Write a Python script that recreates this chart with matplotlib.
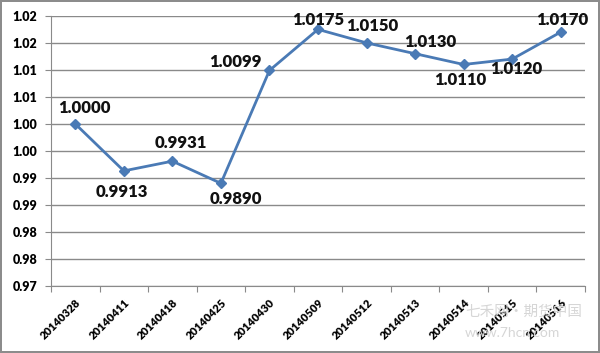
import matplotlib.pyplot as plt
from matplotlib.ticker import FixedLocator, NullFormatter

dates = ["20140328", "20140411", "20140418", "20140425", "20140430", "20140509",
         "20140512", "20140513", "20140514", "20140515", "20140516"]
values = [1.0000, 0.9913, 0.9931, 0.9890, 1.0099, 1.0175,
          1.0150, 1.0130, 1.0110, 1.0120, 1.0170]
labels = ["1.0000", "0.9913", "0.9931", "0.9890", "1.0099", "1.0175",
          "1.0150", "1.0130", "1.0110", "1.0120", "1.0170"]
y_ticks = [0.970, 0.975, 0.980, 0.985, 0.990, 0.995, 1.000, 1.005, 1.010, 1.015, 1.020]
y_ticklabels = ["0.97", "0.98", "0.98", "0.99", "0.99", "1.00", "1.00", "1.01", "1.01", "1.02", "1.02"]

# label offsets in pixels (dx, dy)
offsets = [(9, 16), (-2, -21), (8, 18), (15, -16), (-34, 8), (0, 9),
           (6, 17), (15, 12), (-3, -16), (4, -10), (2, 12)]

plt.rcParams['font.family'] = ['Lato', 'DejaVu Sans']

fig = plt.figure(figsize=(6, 3.53), dpi=100, edgecolor='#8c8c8c', linewidth=1.5)
ax = fig.add_axes([0.085, 0.19, 0.89, 0.765])

x = list(range(len(values)))
ax.plot(x, values, color='#4a7ab5', linewidth=2, marker='D', markersize=5, zorder=3)

for i, (v, lab) in enumerate(zip(values, labels)):
    ax.annotate(lab, (i, v), xytext=offsets[i], textcoords='offset pixels',
                ha='center', va='center', fontsize=12, fontweight='heavy', color='#111111')

ax.set_xlim(-0.5, len(values) - 0.5)
ax.set_ylim(0.97, 1.02)
ax.set_yticks(y_ticks)
ax.set_yticklabels(y_ticklabels, fontsize=9, fontweight='heavy')
ax.yaxis.grid(True, color='#8a8a8a', linewidth=1)
ax.set_axisbelow(True)

ax.xaxis.set_major_locator(FixedLocator([i - 0.5 for i in range(len(values) + 1)]))
ax.xaxis.set_major_formatter(NullFormatter())
ax.xaxis.set_minor_locator(FixedLocator(x))
ax.set_xticklabels(dates, minor=True, rotation=45, ha='right', rotation_mode='anchor',
                   fontsize=8, fontweight='heavy')
ax.tick_params(axis='x', which='minor', length=0, pad=8)
ax.tick_params(axis='x', which='major', length=4, color='#8a8a8a')
ax.tick_params(axis='y', length=4, color='#8a8a8a', pad=6)

for s in ['top', 'right']:
    ax.spines[s].set_visible(False)
for s in ['left', 'bottom']:
    ax.spines[s].set_color('#8a8a8a')

# watermark
fig.text(0.775, 0.116, "七禾网·期货中国", fontsize=10.5, color='#d6d6d6',
         family=['Noto Sans CJK SC', 'DejaVu Sans'], ha='left', va='center')
fig.text(0.775, 0.058, "www.7hcn.com", fontsize=10, color='#d6d6d6', ha='left', va='center')

fig.savefig('out.png', dpi=100)
